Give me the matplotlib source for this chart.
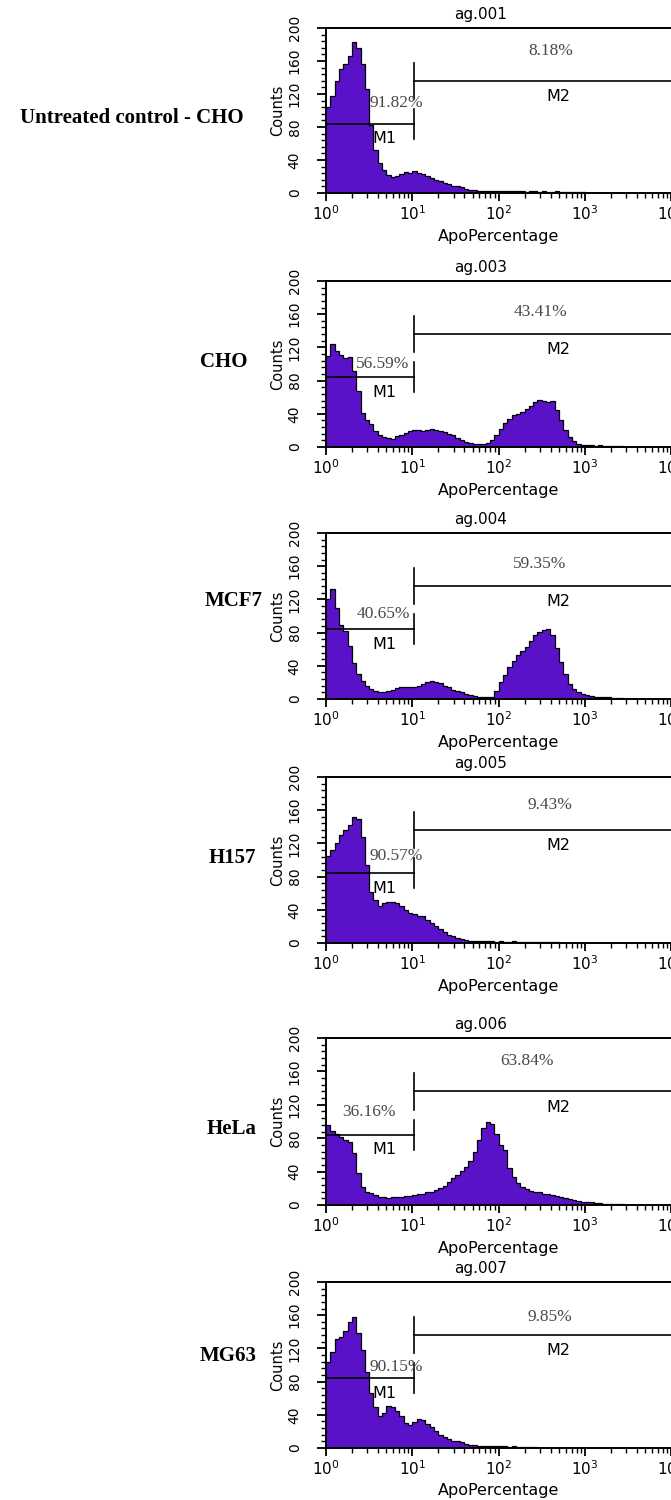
import numpy as np
import matplotlib
matplotlib.use("Agg")
import matplotlib.pyplot as plt
from matplotlib.ticker import LogLocator, MultipleLocator, LogFormatterSciNotation

# ---------------- data ----------------
row_labels = ["Untreated control - CHO", "CHO", "MCF7", "H157", "HeLa", "MG63"]
sample_ids = ["ag.001", "ag.003", "ag.004", "ag.005", "ag.006", "ag.007"]
m1_pct = ["91.82%", "56.59%", "40.65%", "90.57%", "36.16%", "90.15%"]
m2_pct = ["8.18%", "43.41%", "59.35%", "9.43%", "63.84%", "9.85%"]

BINS_PER_DECADE = 20  # histogram channels read at 1/20 decade

counts_untreated_cho = [104, 118, 136, 150, 156, 166, 183, 176, 156, 126,
                        82, 52, 36, 28, 22, 20, 21, 23, 25, 24,
                        27, 24, 23, 21, 18, 16, 14, 12, 11, 9,
                        8, 7, 5, 4, 4, 3, 3, 2, 3, 2,
                        2, 3, 2, 2, 2, 2, 1, 2, 2, 1,
                        2, 1, 1, 2, 1, 1, 1, 1, 1, 1,
                        0, 0, 0, 0, 0, 0, 0, 0, 0, 0]
counts_cho = [110, 124, 116, 111, 107, 108, 92, 68, 41, 33,
              28, 19, 14, 12, 11, 10, 13, 15, 17, 19,
              21, 20, 19, 21, 22, 20, 19, 18, 16, 15,
              11, 8, 6, 5, 4, 4, 4, 5, 8, 14,
              22, 29, 34, 38, 40, 42, 46, 50, 54, 57,
              56, 54, 55, 44, 32, 21, 12, 7, 4, 3,
              2, 2, 1, 2, 1, 1, 1, 1, 1, 0]
counts_mcf7 = [120, 132, 110, 89, 82, 64, 43, 30, 22, 16,
               12, 10, 9, 8, 10, 11, 13, 14, 15, 14,
               15, 16, 18, 21, 22, 21, 19, 16, 14, 11,
               10, 8, 6, 5, 4, 3, 3, 2, 3, 10,
               20, 29, 38, 46, 53, 58, 63, 70, 77, 81,
               83, 84, 77, 62, 44, 30, 18, 12, 8, 6,
               5, 4, 3, 3, 2, 2, 1, 1, 1, 0]
counts_h157 = [105, 112, 120, 130, 136, 142, 152, 150, 128, 94,
               62, 52, 45, 48, 50, 49, 48, 44, 40, 36,
               35, 33, 32, 28, 24, 20, 17, 13, 10, 8,
               6, 5, 4, 3, 3, 2, 2, 2, 2, 1,
               2, 1, 1, 2, 1, 1, 1, 1, 1, 1,
               1, 1, 1, 1, 0, 0, 0, 0, 0, 0,
               0, 0, 0, 0, 0, 0, 0, 0, 0, 0]
counts_hela = [96, 89, 85, 82, 78, 75, 62, 38, 22, 16,
               14, 12, 10, 9, 8, 9, 10, 10, 11, 11,
               12, 13, 13, 15, 16, 18, 20, 23, 27, 32,
               36, 41, 46, 53, 63, 78, 92, 99, 97, 85,
               72, 66, 44, 33, 26, 22, 19, 17, 16, 15,
               13, 13, 12, 11, 10, 8, 7, 6, 5, 4,
               3, 3, 2, 2, 1, 1, 1, 1, 1, 0]
counts_mg63 = [104, 116, 131, 134, 141, 152, 158, 138, 118, 92,
               66, 50, 38, 42, 51, 50, 45, 38, 30, 28,
               31, 35, 34, 29, 25, 20, 16, 13, 11, 9,
               8, 7, 5, 4, 4, 3, 3, 3, 2, 2,
               2, 2, 1, 2, 1, 1, 1, 1, 1, 0,
               0, 0, 0, 0, 0, 0, 0, 0, 0, 0,
               0, 0, 0, 0, 0, 0, 0, 0, 0, 0]
all_counts = [counts_untreated_cho, counts_cho, counts_mcf7,
              counts_h157, counts_hela, counts_mg63]

gate_split = 10.56      # boundary between M1 and M2 markers
m1_level = 84
m2_level = 136

# ---------------- layout (pixels) ----------------
W, H = 671, 1500
ax_left, ax_right = 326, 671.3
panel_tops = [28, 281, 533, 777, 1038, 1282]
panel_bots = [193, 447, 699, 943, 1205, 1448]
row_label_xy = [(132, 118), (224, 362), (234, 601), (232, 858), (232, 1129), (228, 1356)]
m1_pct_pos = [(10**0.81, 109), (10**0.66, 100), (10**0.66, 102),
              (10**0.81, 105), (10**0.50, 111), (10**0.81, 98)]
m2_pct_pos = [(10**2.60, 172), (10**2.48, 163), (10**2.48, 163),
              (10**2.59, 166), (10**2.33, 172), (10**2.59, 158)]

purple = "#5a12c8"
sans = ["DejaVu Sans"]
serif = ["Liberation Serif", "DejaVu Serif"]

fig = plt.figure(figsize=(W / 100, H / 100), dpi=100)
fig.patch.set_facecolor("white")

for i, counts in enumerate(all_counts):
    top, bot = panel_tops[i], panel_bots[i]
    ax = fig.add_axes([ax_left / W, 1 - bot / H, (ax_right - ax_left) / W, (bot - top) / H])
    ax.set_xscale("log")
    ax.set_xlim(1, 1e4)
    ax.set_ylim(0, 200)

    n = len(counts)
    edges = 10 ** (np.arange(n + 1) / BINS_PER_DECADE)
    ax.stairs(counts, edges, fill=True, color=purple, zorder=2)
    ax.stairs(counts, edges, color="black", lw=0.9, baseline=None, zorder=3)

    # markers
    ax.plot([1, gate_split], [m1_level, m1_level], color="black", lw=1.2, zorder=4)
    ax.plot([gate_split, gate_split], [m1_level - 18, m1_level + 18], color="black", lw=1.2, zorder=4)
    ax.plot([gate_split, 1e4], [m2_level, m2_level], color="black", lw=1.2, zorder=4)
    ax.plot([gate_split, gate_split], [m2_level - 22, m2_level + 22], color="black", lw=1.2, zorder=4)

    ax.text(10**0.68, 66, "M1", ha="center", va="center", fontsize=11.5, family=sans, zorder=5)
    ax.text(10**2.69, 117, "M2", ha="center", va="center", fontsize=11.5, family=sans, zorder=5)
    ax.text(*m1_pct_pos[i], m1_pct[i], ha="center", va="center", fontsize=12.5,
            family=serif, color="#4a4a4a", zorder=5)
    ax.text(*m2_pct_pos[i], m2_pct[i], ha="center", va="center", fontsize=12.5,
            family=serif, color="#4a4a4a", zorder=5)

    ax.text(10**1.79, 216, sample_ids[i], ha="center", va="center", fontsize=11,
            family=sans, clip_on=False)

    # spines and ticks
    for s in ["left", "top", "bottom"]:
        ax.spines[s].set_linewidth(1.4)
    ax.spines["right"].set_visible(False)

    ax.xaxis.set_major_locator(LogLocator(base=10, numticks=10))
    ax.xaxis.set_minor_locator(LogLocator(base=10, subs=np.arange(2, 10), numticks=20))
    ax.xaxis.set_major_formatter(LogFormatterSciNotation())
    ax.yaxis.set_major_locator(MultipleLocator(40))
    ax.yaxis.set_minor_locator(MultipleLocator(8))
    ax.tick_params(axis="x", which="major", direction="out", length=6, width=1.3,
                   labelsize=11, pad=2)
    ax.tick_params(axis="x", which="minor", direction="out", length=3.5, width=1.0)
    ax.tick_params(axis="y", which="major", direction="out", length=6.5, width=1.3,
                   labelsize=10, pad=11, labelrotation=90)
    ax.tick_params(axis="y", which="minor", direction="out", length=3.5, width=1.0)
    for lab in ax.get_yticklabels():
        lab.set_verticalalignment("center")

    ph = bot - top
    pw = ax_right - ax_left
    ax.text(-48 / pw, 0.5, "Counts", transform=ax.transAxes, rotation=90,
            ha="center", va="center", fontsize=10.5, family=sans)
    ax.text((498.5 - ax_left) / pw, -43 / ph, "ApoPercentage", transform=ax.transAxes,
            ha="center", va="center", fontsize=11.5, family=sans)

    lx, ly = row_label_xy[i]
    fig.text(lx / W, 1 - ly / H, row_labels[i], ha="center", va="center",
             fontsize=15, fontweight="bold", family=serif)

fig.savefig("out.png", dpi=100, facecolor="white")
